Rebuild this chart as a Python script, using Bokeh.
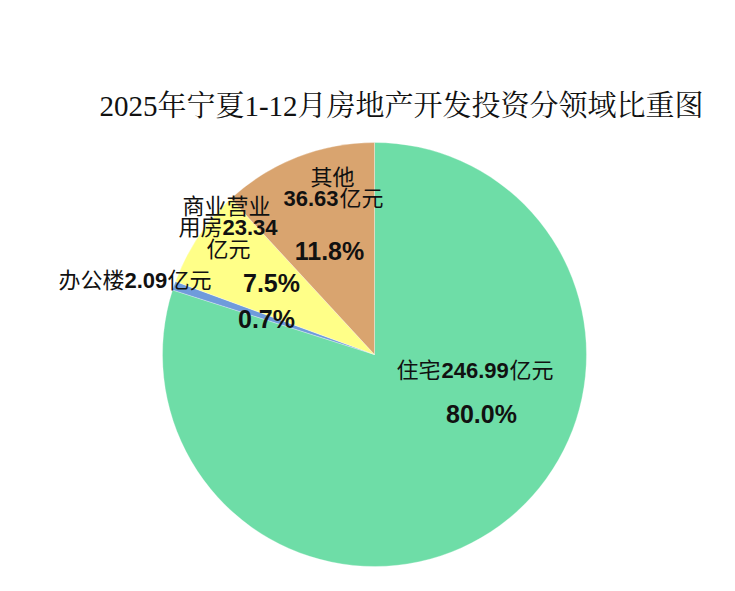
import math
from bokeh.plotting import figure
from bokeh.models import Range1d, ColumnDataSource
from bokeh.core.properties import value
from bokeh.embed import file_html
from bokeh.resources import INLINE

# ---- data ----
categories = ["住宅", "办公楼", "商业营业用房", "其他"]
values = [246.99, 2.09, 23.34, 36.63]
percent_labels = ["80.0%", "0.7%", "7.5%", "11.8%"]
colors = ["#6EDDA7", "#6F9BDB", "#FFFF88", "#D9A46F"]
title_text = "2025年宁夏1-12月房地产开发投资分领域比重图"

# ---- layout (page pixel coords -> data coords, 1:1) ----
W, H = 719, 575
def X(px):
    return px
def Y(py):
    return H - py

cx, cy, R = 374, 354, 212

p = figure(width=W, height=H, output_backend="svg", toolbar_location=None,
           x_range=Range1d(0, W), y_range=Range1d(0, H),
           min_border=0, outline_line_color=None)
p.axis.visible = False
p.grid.visible = False
p.background_fill_color = "white"
p.border_fill_color = "white"

total = sum(values)
starts, ends = [], []
acc = 0.0
for v in values:
    starts.append(math.pi / 2 - acc / total * 2 * math.pi)
    acc += v
    ends.append(math.pi / 2 - acc / total * 2 * math.pi)

src = ColumnDataSource(dict(cat=categories, val=values, start=starts, end=ends, color=colors,
                            x=[X(cx)] * 4, y=[Y(cy)] * 4))
p.wedge(x="x", y="y", radius=R, start_angle="start", end_angle="end", direction="clock",
        fill_color="color", line_color="white", line_alpha=0.5, line_width=0.6, source=src)

CJK = value("Liberation Sans, Noto Sans CJK SC")
SIZE = "22px"
PSIZE = "25px"

def txt(px, py, s, align="left", bold=False, size=SIZE, font=CJK):
    p.text(x=[X(px)], y=[Y(py)], text=[s], text_align=align, text_baseline="middle",
           text_font=font, text_font_size=size,
           text_font_style="bold" if bold else "normal", text_color="#111111")

def num(v):
    return f"{v:.2f}"

# title
txt(401, 105, title_text, align="center", size="29px",
    font=value("Liberation Serif, Noto Serif CJK SC, Noto Sans CJK SC"))

# 住宅
txt(440, 370, categories[0], align="right")
txt(441, 370, num(values[0]), bold=True)
txt(509, 370, "亿元")
txt(481, 413, percent_labels[0], align="center", bold=True, size=PSIZE)

# 办公楼
txt(124, 280, categories[1], align="right")
txt(124, 280, num(values[1]), bold=True)
txt(167, 280, "亿元")
txt(266, 318, percent_labels[1], align="center", bold=True, size=PSIZE)

# 商业营业用房
txt(226, 206, categories[2][:4], align="center")
txt(222, 227, categories[2][4:], align="right")
txt(222, 227, num(values[2]), bold=True)
txt(228, 249, "亿元", align="center")
txt(271, 282, percent_labels[2], align="center", bold=True, size=PSIZE)

# 其他
txt(332, 177, categories[3], align="center")
txt(283, 198, num(values[3]), bold=True)
txt(339, 198, "亿元")
txt(329, 250, percent_labels[3], align="center", bold=True, size=PSIZE)

open("out.html", "w").write(file_html(p, INLINE))
